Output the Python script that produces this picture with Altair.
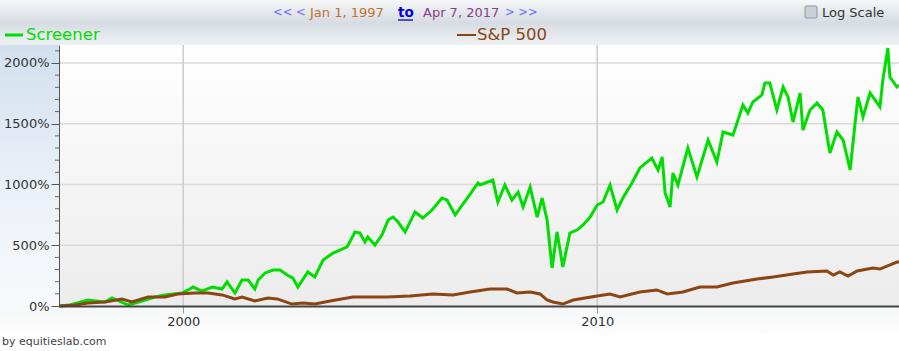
import altair as alt
import pandas as pd

# ---------------- data ----------------
screener_year = [1997.00, 1997.27, 1997.70, 1998.11, 1998.28, 1998.67, 1998.84, 1999.32, 1999.56, 1999.97,
                 2000.12, 2000.24, 2000.45, 2000.70, 2000.94, 2001.06, 2001.25, 2001.42, 2001.57, 2001.73,
                 2001.81, 2001.98, 2002.17, 2002.34, 2002.51, 2002.65, 2002.77, 2003.01, 2003.18, 2003.38,
                 2003.62, 2003.96, 2004.15, 2004.27, 2004.39, 2004.46, 2004.63, 2004.80, 2004.95, 2005.07,
                 2005.19, 2005.36, 2005.60, 2005.79, 2006.01, 2006.25, 2006.37, 2006.57, 2006.69, 2006.88,
                 2007.12, 2007.17, 2007.48, 2007.60, 2007.77, 2007.94, 2008.09, 2008.21, 2008.38, 2008.55,
                 2008.67, 2008.79, 2008.91, 2009.03, 2009.17, 2009.34, 2009.51, 2009.66, 2009.83, 2010.00,
                 2010.14, 2010.31, 2010.48, 2010.62, 2010.84, 2011.03, 2011.32, 2011.47, 2011.57, 2011.64,
                 2011.76, 2011.83, 2011.95, 2012.19, 2012.41, 2012.68, 2012.89, 2013.04, 2013.28, 2013.52,
                 2013.64, 2013.76, 2013.98, 2014.05, 2014.17, 2014.34, 2014.49, 2014.61, 2014.73, 2014.90,
                 2014.97, 2015.14, 2015.31, 2015.45, 2015.62, 2015.79, 2015.94, 2016.11, 2016.23, 2016.30,
                 2016.42, 2016.59, 2016.83, 2016.90, 2017.02, 2017.07, 2017.24, 2017.29]
screener_pct = [0, 8, 49, 33, 66, 8, 25, 74, 91, 107,
                132, 156, 123, 156, 140, 198, 107, 214, 214, 140,
                214, 272, 296, 296, 255, 230, 156, 280, 239, 379,
                436, 486, 609, 601, 527, 568, 502, 584, 708, 732,
                691, 609, 774, 724, 790, 889, 872, 749, 807, 897,
                1012, 996, 1037, 856, 996, 872, 938, 815, 979, 732,
                889, 708, 313, 609, 321, 601, 625, 667, 732, 831,
                856, 996, 790, 889, 1012, 1136, 1218, 1119, 1226, 930,
                815, 1095, 996, 1300, 1062, 1366, 1185, 1432, 1407, 1654,
                1588, 1679, 1737, 1835, 1835, 1613, 1802, 1720, 1514, 1753,
                1448, 1613, 1671, 1613, 1259, 1432, 1366, 1119, 1506, 1720,
                1555, 1753, 1638, 1860, 2123, 1885, 1802, 1819]

sp500_year = [1997.00, 1997.39, 1997.70, 1998.11, 1998.52, 1998.76, 1999.15, 1999.56, 1999.87, 2000.29,
              2000.60, 2000.94, 2001.25, 2001.42, 2001.73, 2002.05, 2002.27, 2002.63, 2002.89, 2003.18,
              2003.55, 2004.10, 2004.92, 2005.48, 2006.03, 2006.52, 2006.93, 2007.41, 2007.82, 2008.06,
              2008.38, 2008.62, 2008.79, 2008.93, 2009.17, 2009.42, 2010.00, 2010.31, 2010.55, 2011.03,
              2011.44, 2011.69, 2012.07, 2012.48, 2012.89, 2013.28, 2013.86, 2014.25, 2014.73, 2015.07,
              2015.55, 2015.70, 2015.86, 2016.06, 2016.28, 2016.66, 2016.83, 2017.24, 2017.29]
sp500_pct = [0, 8, 25, 33, 58, 33, 74, 74, 99, 107,
             107, 91, 58, 74, 41, 66, 58, 16, 25, 16,
             41, 74, 74, 82, 99, 91, 115, 140, 140, 107,
             115, 99, 49, 33, 16, 49, 82, 99, 74, 115,
             132, 99, 115, 156, 156, 189, 222, 239, 263, 280,
             288, 255, 280, 247, 288, 313, 304, 362, 362]

y_major = [0, 500, 1000, 1500, 2000]
y_minor = [100, 200, 300, 400, 600, 700, 800, 900, 1100, 1200, 1300, 1400,
           1600, 1700, 1800, 1900, 2100]
x_ticks = [2000, 2010]

# ---------------- layout ----------------
W, H = 840, 261
L, T = 59, 45
GREEN = "#00dd00"
BROWN = "#8b4513"
FONT = "DejaVu Sans"

xscale = alt.Scale(domain=[1997.0, 2017.29], nice=False, zero=False)
yscale = alt.Scale(domain=[0, 2148], nice=False, zero=True)

x_axis = alt.Axis(values=x_ticks, format="d", grid=False, domainColor="#444444", domainWidth=2,
                  tickColor="#999999", tickSize=7, labelFont=FONT, labelFontSize=13, labelColor="#333333",
                  labelPadding=2, title=None, zindex=1)
y_axis = alt.Axis(values=y_major, labelExpr="datum.value + '%'", grid=False, domainColor="#555555",
                  tickColor="#555555", tickSize=8, labelFont=FONT, labelFontSize=13, labelColor="#333333",
                  labelPadding=2, title=None, zindex=1)

one = pd.DataFrame({"a": [0]})


def grad(stops):
    return alt.Gradient(gradient="linear", x1=0, x2=0, y1=0, y2=1,
                        stops=[alt.GradientStop(color=c, offset=o) for o, c in stops])


def box(x1, x2, y1, y2, fill):
    return alt.Chart(one).mark_rect(fill=fill, strokeWidth=0).encode(
        x=alt.value(x1 - L), x2=alt.value(x2 - L), y=alt.value(y1 - T), y2=alt.value(y2 - T))


def txt(text, x, y, color, size, weight="normal", align="left"):
    return alt.Chart(pd.DataFrame({"t": [text]})).mark_text(
        font=FONT, fontSize=size, color=color, fontWeight=weight, align=align, baseline="middle"
    ).encode(x=alt.value(x - L), y=alt.value(y - T), text="t:N")


def seg(x1, x2, y, color, width):
    return alt.Chart(one).mark_rule(color=color, strokeWidth=width).encode(
        x=alt.value(x1 - L), x2=alt.value(x2 - L), y=alt.value(y - T))


# backgrounds
bg_header = box(0, 899, 0, 45, grad([(0, "#f6f7f8"), (0.5, "#d6dce2"), (1, "#eef1f4")]))
bg_left = box(0, 59, 45, 306, grad([(0, "#d2e0ee"), (0.6, "#edf2f8"), (1, "#f7f9fc")]))
bg_plot = box(59, 899, 45, 306, grad([(0, "#ffffff"), (1, "#ececec")]))
bg_bottom = box(0, 899, 306, 333, grad([(0, "#f6f7f8"), (1, "#fcfcfc")]))

# grid lines and minor ticks
hgrid = alt.Chart(pd.DataFrame({"value": y_major[1:]})).mark_rule(color="#d9d9d9", strokeWidth=1.5).encode(
    y=alt.Y("value:Q", scale=yscale, axis=y_axis), x=alt.value(0), x2=alt.value(W))
vgrid = alt.Chart(pd.DataFrame({"year": x_ticks})).mark_rule(color="#cccccc", strokeWidth=1.5).encode(
    x=alt.X("year:Q", scale=xscale, axis=x_axis), y=alt.value(0), y2=alt.value(H))
minor = alt.Chart(pd.DataFrame({"value": y_minor})).mark_rule(color="#666666", strokeWidth=1).encode(
    y=alt.Y("value:Q", scale=yscale, axis=y_axis), x=alt.value(-4), x2=alt.value(0))

# data lines
scr_df = pd.DataFrame({"year": screener_year, "value": screener_pct})
sp_df = pd.DataFrame({"year": sp500_year, "value": sp500_pct})

scr_line = alt.Chart(scr_df).mark_line(color=GREEN, strokeWidth=3).encode(
    x=alt.X("year:Q", scale=xscale, axis=x_axis),
    y=alt.Y("value:Q", scale=yscale, axis=y_axis))
sp_line = alt.Chart(sp_df).mark_line(color=BROWN, strokeWidth=3).encode(
    x=alt.X("year:Q", scale=xscale, axis=x_axis),
    y=alt.Y("value:Q", scale=yscale, axis=y_axis))

# header / legend / credit texts
texts = [
    txt("<< <", 273, 13, "#6a6aff", 11.5),
    txt("Jan 1, 1997", 310, 13, "#c07030", 13),
    txt("to", 398, 13, "#0000dd", 13.5, weight="bold"),
    seg(398, 413, 20, "#0000dd", 1.3),
    txt("Apr 7, 2017", 423, 13, "#8a3d8a", 13),
    txt("> >>", 505, 13, "#6a6aff", 11.5),
    alt.Chart(one).mark_rect(fill="#c9d0d8", stroke="#8e98a3", strokeWidth=1, cornerRadius=1).encode(
        x=alt.value(805 - L), x2=alt.value(817 - L), y=alt.value(6 - T), y2=alt.value(18 - T)),
    txt("Log Scale", 822, 13, "#333333", 13),
    seg(5, 23, 35, GREEN, 3),
    txt("Screener", 26, 35, GREEN, 16.5),
    seg(457, 476, 35, BROWN, 2),
    txt("S&P 500", 477, 35, BROWN, 16.5),
    txt("by equitieslab.com", 2, 342, "#444444", 11),
]

chart = alt.layer(
    bg_header, bg_left, bg_plot, bg_bottom, hgrid, vgrid, minor, scr_line, sp_line, *texts
).properties(
    width=W, height=H,
    padding={"left": L, "top": T, "right": 0, "bottom": 351 - T - H},
    autosize=alt.AutoSizeParams(type="none"),
    background="white",
).configure_view(stroke=None)

chart.save("out.html", embed_options={"renderer": "svg", "actions": False})
